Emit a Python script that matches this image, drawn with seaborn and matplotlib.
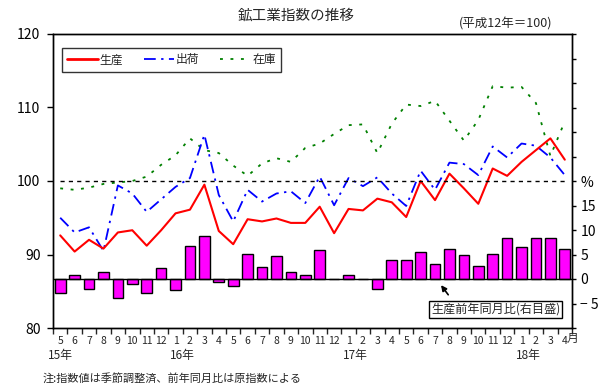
import matplotlib
matplotlib.use("Agg")
import matplotlib.pyplot as plt
from matplotlib.lines import Line2D
import matplotlib.transforms as mtransforms
import numpy as np
import pandas as pd
import seaborn as sns

# 月ラベル (15年5月 ～ 18年4月)
months = [5, 6, 7, 8, 9, 10, 11, 12,
          1, 2, 3, 4, 5, 6, 7, 8, 9, 10, 11, 12,
          1, 2, 3, 4, 5, 6, 7, 8, 9, 10, 11, 12,
          1, 2, 3, 4]
years = ["15年", "16年", "17年", "18年"]

# 指数 (平成12年=100)
production = [92.6, 90.4, 92.0, 90.8, 93.0, 93.3, 91.2, 93.3, 95.6, 96.1,
              99.5, 93.2, 91.4, 94.8, 94.5, 94.9, 94.3, 94.3, 96.5, 92.9,
              96.2, 96.0, 97.6, 97.1, 95.1, 100.0, 97.4, 101.0, 99.0, 96.9,
              101.7, 100.7, 102.6, 104.2, 105.8, 102.9]
shipment = [95.0, 93.0, 93.7, 90.5, 99.4, 98.3, 95.8, 97.5, 99.2, 100.4,
            106.3, 98.1, 94.5, 98.8, 97.2, 98.3, 98.6, 97.0, 100.6, 96.7,
            100.4, 99.3, 100.5, 98.3, 96.6, 101.4, 98.8, 102.5, 102.3, 100.8,
            104.7, 103.2, 105.1, 104.8, 103.2, 100.8]
inventory = [99.0, 98.8, 99.1, 99.6, 99.8, 100.0, 100.6, 102.2, 103.5, 105.8,
             104.2, 103.8, 102.1, 100.7, 102.4, 103.1, 102.6, 104.5, 105.1, 106.4,
             107.6, 107.7, 103.8, 107.8, 110.4, 110.2, 110.9, 108.2, 105.5, 108.3,
             112.9, 112.7, 112.8, 110.6, 103.4, 108.1]
# 生産前年同月比 (%)
yoy = [-2.9, 0.8, -2.0, 1.4, -3.9, -1.0, -2.9, 2.2, -2.2, 6.7,
       8.8, -0.6, -1.4, 5.1, 2.4, 4.7, 1.4, 0.8, 5.9, 0.0,
       0.8, 0.0, -2.0, 3.9, 3.9, 5.5, 3.1, 6.1, 4.9, 2.6,
       5.1, 8.4, 6.5, 8.4, 8.4, 6.1]

df = pd.DataFrame({"i": np.arange(len(months)), "month": months,
                   "prod": production, "ship": shipment,
                   "inv": inventory, "yoy": yoy})

sns.set_theme(style="ticks")
plt.rcParams["font.family"] = ["Noto Sans CJK JP", "DejaVu Sans"]
plt.rcParams["axes.unicode_minus"] = True

W, H = 609, 392
fig = plt.figure(figsize=(W / 100, H / 100), dpi=100)
ax = fig.add_axes([53 / W, 1 - 328 / H, (572 - 53) / W, (328 - 34) / H])
ax2 = ax.twinx()

RED, BLUE, GREEN, MAG = "#FF0000", "#0000FF", "#008000", "#FF00FF"
ship_ls = (0, (6.5, 3, 1.3, 3))
inv_ls = (0, (1.6, 4.2))

# 棒 (右目盛)
sns.barplot(data=df, x="i", y="yoy", ax=ax2, color=MAG, saturation=1,
            edgecolor="black", linewidth=1, width=0.74)
ax2.axhline(0, color="black", lw=1)

# 折れ線 (左目盛)
sns.lineplot(data=df, x="i", y="inv", ax=ax, color=GREEN, lw=1.3, linestyle=inv_ls)
sns.lineplot(data=df, x="i", y="ship", ax=ax, color=BLUE, lw=1.3, linestyle=ship_ls)
sns.lineplot(data=df, x="i", y="prod", ax=ax, color=RED, lw=1.5)
ax.plot([0, len(months) - 1], [100, 100], color="black", lw=1, linestyle=(0, (3, 3)))

n = len(months)
ax.set_xlim(-0.5, n - 0.5)
ax.set_ylim(80, 120)
ax2.set_ylim(-10, 50)

ax.set_yticks([80, 90, 100, 110, 120])
ax.tick_params(axis="y", direction="out", length=4, width=1, pad=5, labelsize=10, colors="black")

r_ticks = list(range(-10, 55, 5))
r_labels = []
for t in r_ticks:
    if t == 20:
        r_labels.append("%")
    elif -5 <= t <= 15:
        r_labels.append(str(t).replace("-", "− "))
    else:
        r_labels.append("")
ax2.set_yticks(r_ticks)
ax2.set_yticklabels(r_labels)
ax2.tick_params(axis="y", direction="out", length=3, width=1, pad=3, labelsize=10, colors="black")

ax.set_xticks(np.arange(-0.5, n, 1.0))
ax.set_xticklabels([])
ax.set_xticks(np.arange(n), minor=True)
ax.set_xticklabels([str(m) for m in months], minor=True)
ax.tick_params(axis="x", which="major", direction="out", length=4, width=1)
ax.tick_params(axis="x", which="minor", length=0, pad=6, labelsize=7.5)

for a in (ax, ax2):
    a.set_xlabel("")
    a.set_ylabel("")
    for s in a.spines.values():
        s.set_visible(True)
        s.set_color("black")
        s.set_linewidth(1)

# 年ラベル
trans = mtransforms.blended_transform_factory(ax.transData, ax.transAxes)
year_start = [0] + [k for k in range(n) if months[k] == 1]
for label, k in zip(years, year_start):
    xpos = k + 0.5 if months[k] == 1 else k
    ax.text(xpos, -0.095, label, transform=trans, ha="center", va="center", fontsize=8.5)
ax.text(n - 0.44, -0.034, "月", transform=trans, ha="center", va="center", fontsize=8.5)

# 凡例
handles = [Line2D([], [], color=RED, lw=2),
           Line2D([], [], color=BLUE, lw=1.3, linestyle=ship_ls),
           Line2D([], [], color=GREEN, lw=1.3, linestyle=inv_ls)]
leg = ax.legend(handles, ["生産", "出荷", "在庫"], loc="upper left",
                bbox_to_anchor=(0.017, 0.952), ncol=3, fontsize=8.5,
                frameon=True, fancybox=False, edgecolor="black",
                handlelength=2.6, handletextpad=0.1, columnspacing=1.8,
                borderpad=0.45, borderaxespad=0)
leg.get_frame().set_linewidth(1)

# 注記
ax2.text(30.2, -6.2, "生産前年同月比(右目盛)", ha="center", va="center", fontsize=8.7,
         bbox=dict(boxstyle="square,pad=0.15", fc="white", ec="black", lw=1))
ax2.annotate("", xy=(26.3, -0.8), xytext=(27.03, -3.67),
             arrowprops=dict(arrowstyle="-|>", color="black", lw=1.2, mutation_scale=8))

fig.text(296 / W, 1 - 16 / H, "鉱工業指数の推移", ha="center", va="center", fontsize=10.5)
fig.text(552 / W, 1 - 24 / H, "(平成12年＝100)", ha="right", va="center", fontsize=9)
fig.text(43 / W, 1 - 378 / H, "注:指数値は季節調整済、前年同月比は原指数による",
         ha="left", va="center", fontsize=8)

fig.savefig("out.png", dpi=100)
